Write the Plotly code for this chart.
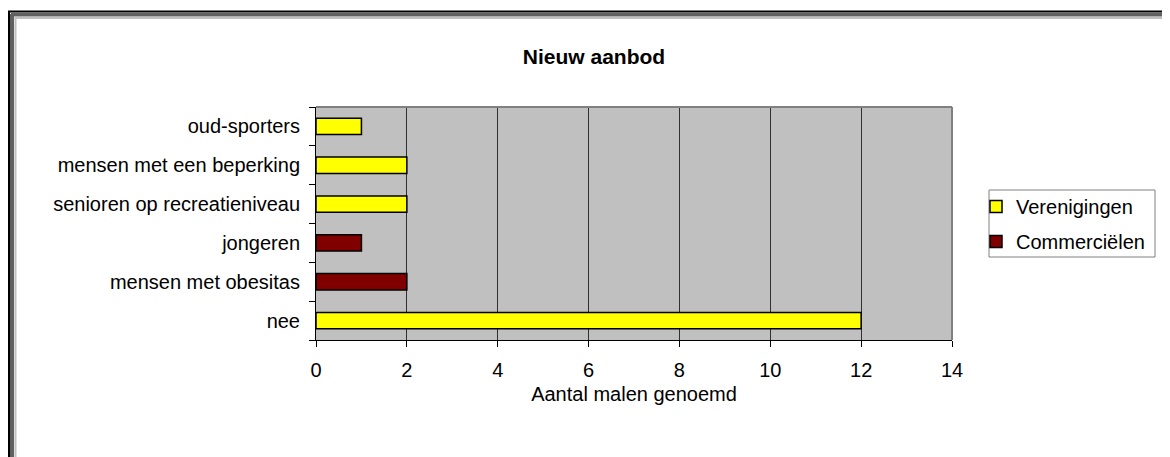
"""Nieuw aanbod — horizontale staafgrafiek in Excel-stijl"""
import plotly.graph_objects as go

# venster 1170x457; de pagina zet de figuur op (8, 8)
OFF = 8
W, H = 1170 - OFF, 457 - OFF
# plotgebied in schermpixels
PL, PR, PT, PB = 316, 952, 107, 340

categories = ["nee", "mensen met obesitas", "jongeren",
              "senioren op recreatieniveau", "mensen met een beperking", "oud-sporters"]
verenigingen = [12, None, None, 2, 2, 1]
commercielen = [None, 2, 1, None, None, None]

_YEL = "#FFFF00"
_RED = "#800000"
_FONT = "Liberation Sans, Arial, sans-serif"
_FS = 20


def px(x):
    """schermpixel x -> paper"""
    return (x - PL) / (PR - PL)


def py(y):
    """schermpixel y -> paper"""
    return 1 - (y - PT) / (PB - PT)


fig = go.Figure()
fig.add_trace(go.Bar(
    y=categories, x=verenigingen, orientation="h", name="Verenigingen",
    marker=dict(color=_YEL, line=dict(color="#000000", width=1.5)),
    width=0.42, legendgroup="a",
))
fig.add_trace(go.Bar(
    y=categories, x=commercielen, orientation="h", name="Commerciëlen",
    marker=dict(color=_RED, line=dict(color="#000000", width=1.5)),
    width=0.42, legendgroup="b",
))

fig.update_layout(
    width=W, height=H,
    barmode="overlay",
    paper_bgcolor="#FFFFFF",
    plot_bgcolor="#C0C0C0",
    margin=dict(l=PL - OFF, r=W + OFF - PR, t=PT - OFF, b=H + OFF - PB, autoexpand=False),
    font=dict(family=_FONT, size=_FS, color="#000000"),
    title=dict(text="<b>Nieuw aanbod</b>", x=(594 - OFF) / W, xref="container", xanchor="center",
               y=1 - (57 - OFF) / H, yref="container", yanchor="middle",
               font=dict(size=21)),
    legend=dict(x=px(976), y=py(187), xanchor="left", yanchor="top",
                bgcolor="rgba(0,0,0,0)", borderwidth=0,
                traceorder="grouped", tracegroupgap=6,
                font=dict(size=_FS)),
    showlegend=True,
)

fig.update_xaxes(
    range=[0, 14], dtick=2, tick0=0,
    showgrid=True, gridcolor="#303030", gridwidth=1,
    zeroline=False,
    showline=True, linecolor="#000000", linewidth=1,
    ticks="outside", ticklen=6, tickcolor="#000000",
    ticklabelstandoff=6,
    title=dict(text="Aantal malen genoemd", standoff=6, font=dict(size=_FS)),
    fixedrange=True,
)
fig.update_yaxes(
    type="category", categoryorder="array", categoryarray=categories,
    showgrid=False, zeroline=False,
    showline=True, linecolor="#000000", linewidth=1,
    ticks="outside", ticklen=6, tickcolor="#000000", tickson="boundaries",
    ticklabelstandoff=11,
    fixedrange=True,
)

# rand van het plotgebied (grijs boven/rechts)
fig.add_shape(type="line", xref="paper", yref="paper", x0=0, x1=1, y0=1, y1=1,
              line=dict(color="#808080", width=2))
fig.add_shape(type="line", xref="paper", yref="paper", x0=1, x1=1, y0=0, y1=1,
              line=dict(color="#808080", width=2))

# kader om de legenda
fig.add_shape(type="rect", xref="paper", yref="paper",
              x0=px(989), x1=px(1155), y0=py(190), y1=py(257),
              line=dict(color="#808080", width=1), fillcolor="rgba(0,0,0,0)")

# kader van de grafiek (Excel-schaduwrand)
for off, col, wd in [(0, "#000000", 2), (3, "#606060", 4), (6.5, "#C0C0C0", 2)]:
    fig.add_shape(type="line", xref="paper", yref="paper",
                  x0=px(8 + off), x1=px(1180), y0=py(11.5 + off), y1=py(11.5 + off),
                  line=dict(color=col, width=wd))
    fig.add_shape(type="line", xref="paper", yref="paper",
                  x0=px(9 + off), x1=px(9 + off), y0=py(11 + off), y1=py(470),
                  line=dict(color=col, width=wd))

fig.write_html("out.html")
